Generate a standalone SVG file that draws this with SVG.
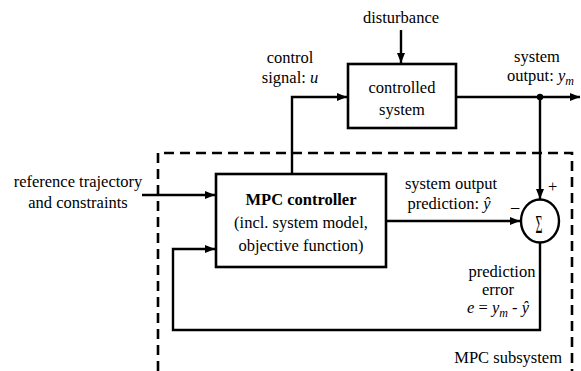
<svg xmlns="http://www.w3.org/2000/svg" width="581" height="371" viewBox="0 0 581 371" font-family="Liberation Serif, Times New Roman, serif">
  <style>
    text { font-size: 16.5px; fill: #000; }
    .c { text-anchor: middle; }
    .i { font-style: italic; }
    .box { fill: #fff; stroke: #000; stroke-width: 2.6; }
    .wire { fill: none; stroke: #000; stroke-width: 2.4; }
    .dash { fill: none; stroke: #000; stroke-width: 2.6; stroke-dasharray: 10 6; }
  </style>
  <defs>
    <marker id="arr" viewBox="0 0 10 8" refX="10" refY="4" markerWidth="10" markerHeight="8" markerUnits="userSpaceOnUse" orient="auto">
      <path d="M0,0 L10,4 L0,8 Z" fill="#000"/>
    </marker>
  </defs>

  <rect width="581" height="371" fill="#fff"/>

  <!-- MPC subsystem boundary -->
  <g id="mpc-subsystem">
    <path class="dash" d="M158,371 V153 H572 V371"/>
    <text x="562" y="363" text-anchor="end">MPC subsystem</text>
  </g>

  <!-- connectors -->
  <g id="connectors">
    <!-- disturbance -->
    <line class="wire" x1="401" y1="30" x2="401" y2="63" marker-end="url(#arr)"/>
    <!-- control signal u -->
    <path class="wire" d="M292,174 V97 H347" marker-end="url(#arr)"/>
    <!-- system output -->
    <line class="wire" x1="456" y1="97" x2="580" y2="97" marker-end="url(#arr)"/>
    <circle cx="540" cy="97" r="3.2" fill="#000"/>
    <line class="wire" x1="540" y1="97" x2="540" y2="199" marker-end="url(#arr)"/>
    <!-- reference trajectory -->
    <line class="wire" x1="142" y1="195" x2="215" y2="195" marker-end="url(#arr)"/>
    <!-- prediction -->
    <line class="wire" x1="386" y1="221" x2="520" y2="221" marker-end="url(#arr)"/>
    <!-- prediction error feedback -->
    <path class="wire" d="M540,243 V330 H173 V249 H215" marker-end="url(#arr)"/>
  </g>

  <g id="controlled-system">
    <rect class="box" x="348" y="64" width="108" height="64"/>
    <text class="c" x="402" y="93">controlled</text>
    <text class="c" x="402" y="115">system</text>
  </g>

  <g id="mpc-controller">
    <rect class="box" x="216" y="174" width="170" height="93"/>
    <text class="c" x="301" y="205" font-weight="bold">MPC controller</text>
    <text class="c" x="301" y="228">(incl. system model,</text>
    <text class="c" x="301" y="251">objective function)</text>
  </g>

  <g id="summer">
    <ellipse cx="540" cy="221" rx="19" ry="21.5" fill="#fff" stroke="#000" stroke-width="2.4"/>
    <text class="c" transform="translate(539,233) scale(0.72,1.5)" font-size="25">Σ</text>
    <text x="548" y="192" font-size="14">+</text>
    <text x="511" y="212" font-size="15">–</text>
  </g>

  <g id="labels">
    <text class="c" x="401" y="23">disturbance</text>
    <text class="c" x="290" y="63">control</text>
    <text class="c" x="290" y="83">signal: <tspan class="i">u</tspan></text>
    <text class="c" x="537" y="62">system</text>
    <text x="507" y="81">output: <tspan class="i">y</tspan><tspan class="i" font-size="12" dy="4">m</tspan></text>
    <text x="78" y="187" class="c">reference trajectory</text>
    <text x="78" y="208" class="c">and constraints</text>
    <text class="c" x="451" y="189">system output</text>
    <text class="c" x="449" y="209">prediction: <tspan class="i">ŷ</tspan></text>
    <text class="c" x="502" y="277">prediction</text>
    <text class="c" x="498" y="295">error</text>
    <text x="467" y="313"><tspan class="i">e</tspan> = <tspan class="i">y</tspan><tspan class="i" font-size="12" dy="4">m</tspan><tspan dy="-4"> - </tspan><tspan class="i">ŷ</tspan></text>
  </g>
</svg>
